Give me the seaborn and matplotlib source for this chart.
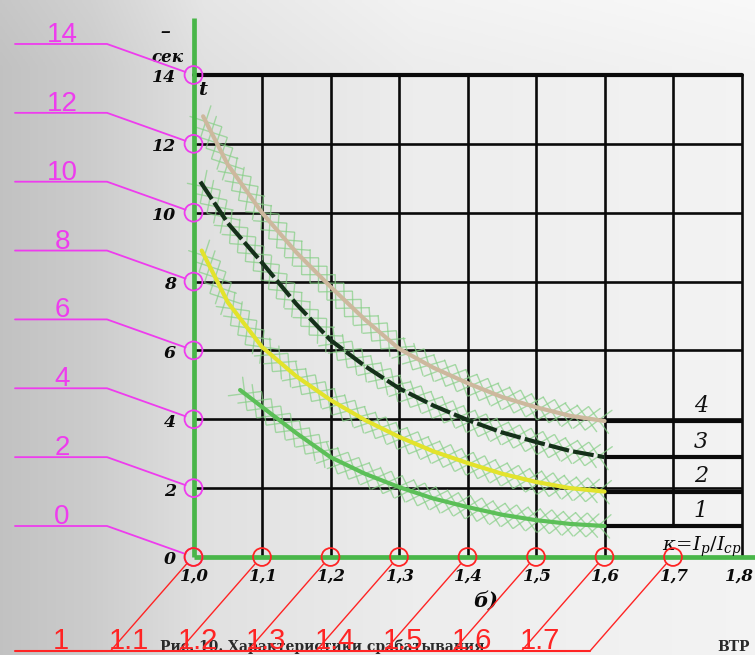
import numpy as np
import pandas as pd
import matplotlib
matplotlib.use("Agg")
import matplotlib.pyplot as plt
import seaborn as sns
from matplotlib import patheffects as pe

# ---------------- data ----------------
x_ticks = [1.0, 1.1, 1.2, 1.3, 1.4, 1.5, 1.6, 1.7, 1.8]
x_tick_labels = ["1,0", "1,1", "1,2", "1,3", "1,4", "1,5", "1,6", "1,7", "1,8"]
y_ticks = [0, 2, 4, 6, 8, 10, 12, 14]
y_tick_labels = ["0", "2", "4", "6", "8", "10", "12", "14"]

k4 = [1.014, 1.05, 1.1, 1.15, 1.2, 1.25, 1.3, 1.35, 1.4, 1.45, 1.5, 1.55, 1.6]
t4 = [12.8, 11.4, 10.0, 8.85, 7.85, 6.9, 6.05, 5.5, 5.05, 4.65, 4.35, 4.1, 3.95]
k3 = [1.01, 1.05, 1.1, 1.15, 1.2, 1.25, 1.3, 1.35, 1.4, 1.45, 1.5, 1.55, 1.6]
t3 = [10.9, 9.7, 8.55, 7.35, 6.3, 5.55, 4.9, 4.4, 3.98, 3.62, 3.34, 3.08, 2.9]
k2 = [1.012, 1.05, 1.1, 1.15, 1.2, 1.25, 1.3, 1.35, 1.4, 1.45, 1.5, 1.55, 1.6]
t2 = [8.9, 7.4, 6.1, 5.25, 4.56, 3.98, 3.49, 3.07, 2.73, 2.42, 2.18, 2.0, 1.9]
k1 = [1.068, 1.1, 1.15, 1.2, 1.25, 1.3, 1.35, 1.4, 1.45, 1.5, 1.55, 1.6]
t1 = [4.85, 4.36, 3.6, 2.9, 2.42, 2.03, 1.7, 1.45, 1.23, 1.07, 0.96, 0.9]
curve_names = ["1", "2", "3", "4"]

ann_y_values = [14, 12, 10, 8, 6, 4, 2, 0]
ann_y_labels = ["14", "12", "10", "8", "6", "4", "2", "0"]
ann_x_values = [1.0, 1.1, 1.2, 1.3, 1.4, 1.5, 1.6, 1.7]
ann_x_labels = ["1", "1.1", "1.2", "1.3", "1.4", "1.5", "1.6", "1.7"]

# ---------------- layout helpers ----------------
W, H = 755, 655
X0PX, XSC = 193.5, 685.0
Y0PX, YSC = 557.0, 34.43
xlim = (1 - X0PX / XSC, 1 + (W - X0PX) / XSC)
ylim = (-(H - Y0PX) / YSC, Y0PX / YSC)


def to_data(xp, yp):
    return 1 + (xp - X0PX) / XSC, (Y0PX - yp) / YSC


def to_px(x, y):
    return X0PX + (x - 1) * XSC, Y0PX - y * YSC


sns.set_theme(style="white")
plt.rcParams["font.family"] = ["DejaVu Sans"]
plt.rcParams["mathtext.fontset"] = "dejavuserif"

fig = plt.figure(figsize=(W / 100, H / 100), dpi=100)
ax = fig.add_axes([0, 0, 1, 1])
ax.set_xlim(*xlim)
ax.set_ylim(*ylim)
ax.axis("off")

# background (scanned paper look)
gx = np.linspace(0, 1, 300)
gval = np.interp(gx, [0, 0.12, 0.27, 0.55, 1.0], [0.76, 0.80, 0.88, 0.93, 0.955])
gy = np.linspace(0, 1, 200)
vval = np.interp(gy, [0, 0.1, 1.0], [0.02, 0.0, 0.0])
grad = np.clip(gval[None, :] + vval[:, None], 0, 1)
img = np.dstack([grad, grad, grad])
ax.imshow(img, extent=[xlim[0], xlim[1], ylim[0], ylim[1]], aspect="auto",
          origin="upper", zorder=0)


def pline(pts, **kw):
    xs, ys = zip(*[to_data(px, py) for px, py in pts])
    ax.plot(xs, ys, **kw)


# ---------------- black grid of the scan ----------------
gk = dict(color="#0a0a0a", lw=1.9, zorder=2, solid_capstyle="butt")
for v in y_ticks[1:]:
    ax.plot([x_ticks[0], x_ticks[-1]], [v, v], **gk)
for v in x_ticks[1:7]:
    ax.plot([v, v], [0, y_ticks[-1]], **gk)
ax.plot([x_ticks[-1], x_ticks[-1]], [0, y_ticks[-1]], **gk)
ax.plot([x_ticks[7], x_ticks[7]], [t1[-1], y_ticks[-1]], **gk)
ax.plot([x_ticks[0], x_ticks[-1]], [y_ticks[-1], y_ticks[-1]], color="#0a0a0a", lw=3, zorder=2)
# curve tails continued as thick lines to the label box
for tail in (t4[-1], t3[-1], t2[-1], t1[-1]):
    ax.plot([x_ticks[6], x_ticks[-1]], [tail, tail], color="#0a0a0a", lw=3.0, zorder=2,
            solid_capstyle="butt")

# ---------------- curves with digitizer crosses ----------------
cross_fx = [pe.TickedStroke(spacing=8.5, angle=a, length=1.4, linewidth=1.0)
            for a in (45, -135, 135, -45)]
curves = [
    (k4, t4, "#cdb89e", "-"),
    (k3, t3, "#15301a", "--"),
    (k2, t2, "#e3e32c", "-"),
    (k1, t1, "#5cbf58", "-"),
]
for ks, ts, col, ls in curves:
    df = pd.DataFrame({"k": ks, "t": ts})
    sns.lineplot(data=df, x="k", y="t", ax=ax, color="#86cf86", alpha=0.7,
                 estimator=None, path_effects=cross_fx, zorder=3, legend=False)
for ks, ts, col, ls in curves:
    df = pd.DataFrame({"k": ks, "t": ts})
    sns.lineplot(data=df, x="k", y="t", ax=ax, color=col, lw=3.0,
                 estimator=None, zorder=4, legend=False)
    ln = ax.lines[-1]
    ln.set_solid_capstyle("round")
    if ls == "--":
        ln.set_dashes([5.0, 1.0])

# curve numbers
for name, yv in zip(curve_names, [t1[-1], t2[-1], t3[-1], t4[-1]]):
    xt, _ = to_data(701, 0)
    ax.text(xt, yv + 0.45, name, fontsize=16, style="italic", family="DejaVu Serif",
            ha="center", va="center", color="#111111", zorder=6)

# ---------------- green axes ----------------
ax.plot([1.0, 1.0], [0, to_data(0, 18)[1]], color="#49b649", lw=3.4, zorder=5,
        solid_capstyle="butt")
ax.plot([1.0, xlim[1]], [0, 0], color="#49b649", lw=3.4, zorder=5, solid_capstyle="butt")

# ---------------- scan tick labels ----------------
lab_kw = dict(family="DejaVu Serif", style="italic", weight="bold", color="#0a0a0a", zorder=6)
for v, s in zip(y_ticks, y_tick_labels):
    xp, yp = to_px(1.0, v)
    xd, yd = to_data(176, yp + 3)
    ax.text(xd, yd, s, fontsize=12.5, ha="right", va="center", **lab_kw)
for v, s in zip(x_ticks, x_tick_labels):
    xp, yp = to_px(v, 0)
    xd, yd = to_data(min(xp + 1, W - 16), 576)
    ax.text(xd, yd, s, fontsize=12, ha="center", va="center", **lab_kw)

ax.text(*to_data(203, 90), "t", fontsize=14, ha="center", va="center", **lab_kw)
ax.text(*to_data(167, 57), "сек", fontsize=12, ha="center", va="center", **lab_kw)
ax.text(*to_data(165, 32), "‒", fontsize=10, ha="center", va="center", **lab_kw)
ax.text(*to_data(486, 601), "б)", fontsize=15, ha="center", va="center", **lab_kw)
ax.text(*to_data(742, 547), r"$\kappa\!=\!I_p/I_{ср}$", fontsize=14, ha="right",
        va="center", color="#0a0a0a", zorder=6)
ax.text(*to_data(160, 654), "Рис. 10. Характеристики срабатывания", fontsize=10,
        family="DejaVu Serif", weight="bold", ha="left", va="bottom", color="#2a2a2a", zorder=1)
ax.text(*to_data(750, 654), "ВТР", fontsize=10, family="DejaVu Serif", weight="bold",
        ha="right", va="bottom", color="#2a2a2a", zorder=1)

# ---------------- magenta y annotations ----------------
mag = "#ee3cee"
cx = [1.0] * len(ann_y_values)
ax.scatter(cx, ann_y_values, s=165, facecolors="none", edgecolors=mag, linewidths=1.3, zorder=7)
for v, s in zip(ann_y_values, ann_y_labels):
    xp, yp = to_px(1.0, v)
    ly = yp - 31
    pline([(15, ly), (107, ly), (xp - 8, yp - 3)], color=mag, lw=1.3, zorder=7)
    ax.text(*to_data(62, ly - 2), s, fontsize=20, family="Liberation Sans", color=mag,
            ha="center", va="baseline", zorder=7)

# ---------------- red x annotations ----------------
red = "#ff2424"
ax.scatter(ann_x_values, [0] * len(ann_x_values), s=165, facecolors="none", edgecolors=red,
           linewidths=1.3, zorder=7)
last_xp = to_px(ann_x_values[-1], 0)[0]
pline([(15, 651), (last_xp - 83, 651)], color=red, lw=1.5, zorder=7)
for v, s in zip(ann_x_values, ann_x_labels):
    xp, yp = to_px(v, 0)
    pline([(xp - 83, 651), (xp - 7, yp + 7)], color=red, lw=1.0, zorder=7)
    ax.text(*to_data(xp - 133, 649), s, fontsize=21, family="Liberation Sans", color=red,
            ha="center", va="baseline", zorder=7)

fig.savefig("out.png", dpi=100)
